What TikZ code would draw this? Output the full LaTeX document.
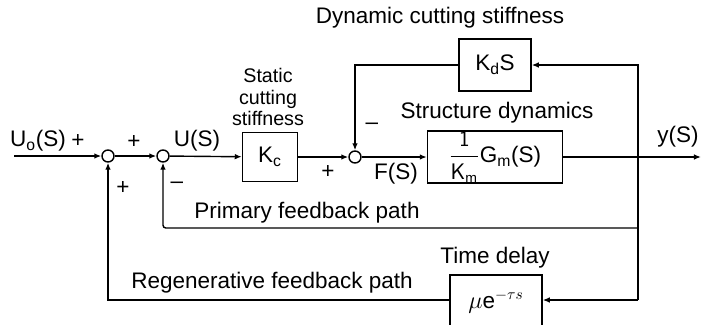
\documentclass[tikz,border=0pt]{standalone}
\usepackage{amsmath}
\usepackage{fontspec}
\setmainfont{Liberation Sans}
\usetikzlibrary{arrows.meta,positioning}

\begin{document}
\begin{tikzpicture}[x=0.025cm,y=-0.025cm,>={Latex[length=5pt,width=4pt]},line width=1pt,
  font=\fontsize{16}{18}\selectfont,
  blk/.style={draw,inner sep=0pt},
  sumc/.style={draw,circle,inner sep=0pt,minimum size=0.3cm},
  lbl/.style={inner sep=0pt,align=center}]
\useasboundingbox (0,0) rectangle (702,324);
% summing junctions and blocks
\node[sumc] (S1) at (108,156) {};
\node[sumc] (S2) at (163,156) {};
\node[sumc] (S3) at (355,157) {};
\node[blk,minimum width=1.375cm,minimum height=1.225cm] (Kc) at (270,157) {K\textsubscript{c}};
\node[blk,minimum width=3.375cm,minimum height=1.275cm] (Gm) at (495,157) {$\dfrac{\mathsf{1}}{\mathsf{K_m}}$G\textsubscript{m}(S)};
\node[blk,minimum width=1.8cm,minimum height=1.3cm] (Kd) at (495,65) {K\textsubscript{d}S};
\node[blk,minimum width=2.3cm,minimum height=1.35cm] (Td) at (496,302) {$\mu$e$^{-\tau s}$};
\coordinate (in) at (14,156);\coordinate (out) at (701,157);
\coordinate (br) at (638,157);\coordinate (pf) at (638,228);\coordinate (rf) at (638,300);
% labels
\node[lbl] (uo) at (38,141) {U\textsubscript{o}(S)};
\node[lbl] (p1) at (78,141) {+};
\node[lbl] (p2) at (123,188) {+};
\node[lbl] (p3) at (134,142) {+};
\node[lbl] (m1) at (177,185) {--};
\node[lbl] (us) at (197,141) {U(S)};
\node[lbl,font=\fontsize{14}{15}\selectfont] (sc) at (268,97) {Static\\cutting\\stiffness};
\node[lbl] (p4) at (328,172) {+};
\node[lbl] (m2) at (372,126) {--};
\node[lbl] (fs) at (396,174) {F(S)};
\node[lbl] (sd) at (497,113) {Structure dynamics};
\node[lbl] (dc) at (440,18) {Dynamic cutting stiffness};
\node[lbl] (ys) at (678,137) {y(S)};
\node[lbl] (pp) at (307,213) {Primary feedback path};
\node[lbl] (rp) at (272,283) {Regenerative feedback path};
\node[lbl] (tl) at (495,258) {Time delay};
% forward path
\draw[->] (in)--(S1);\draw[->] (S1)--(S2);\draw[->] (S2)--(Kc);\draw[->] (Kc)--(S3);\draw[->] (S3)--(Gm);\draw[->] (Gm)--(out);
% feedback paths
\draw[->] (br)|-(Kd);\draw[->] (Kd)-|(S3);
\draw (br)--(rf);\draw[->,rounded corners=2pt] (pf)-|(S2);
\draw[->] (rf)--(Td.east|-rf);\draw[->] (Td.west|-rf)-|(S1);
\end{tikzpicture}
\end{document}
